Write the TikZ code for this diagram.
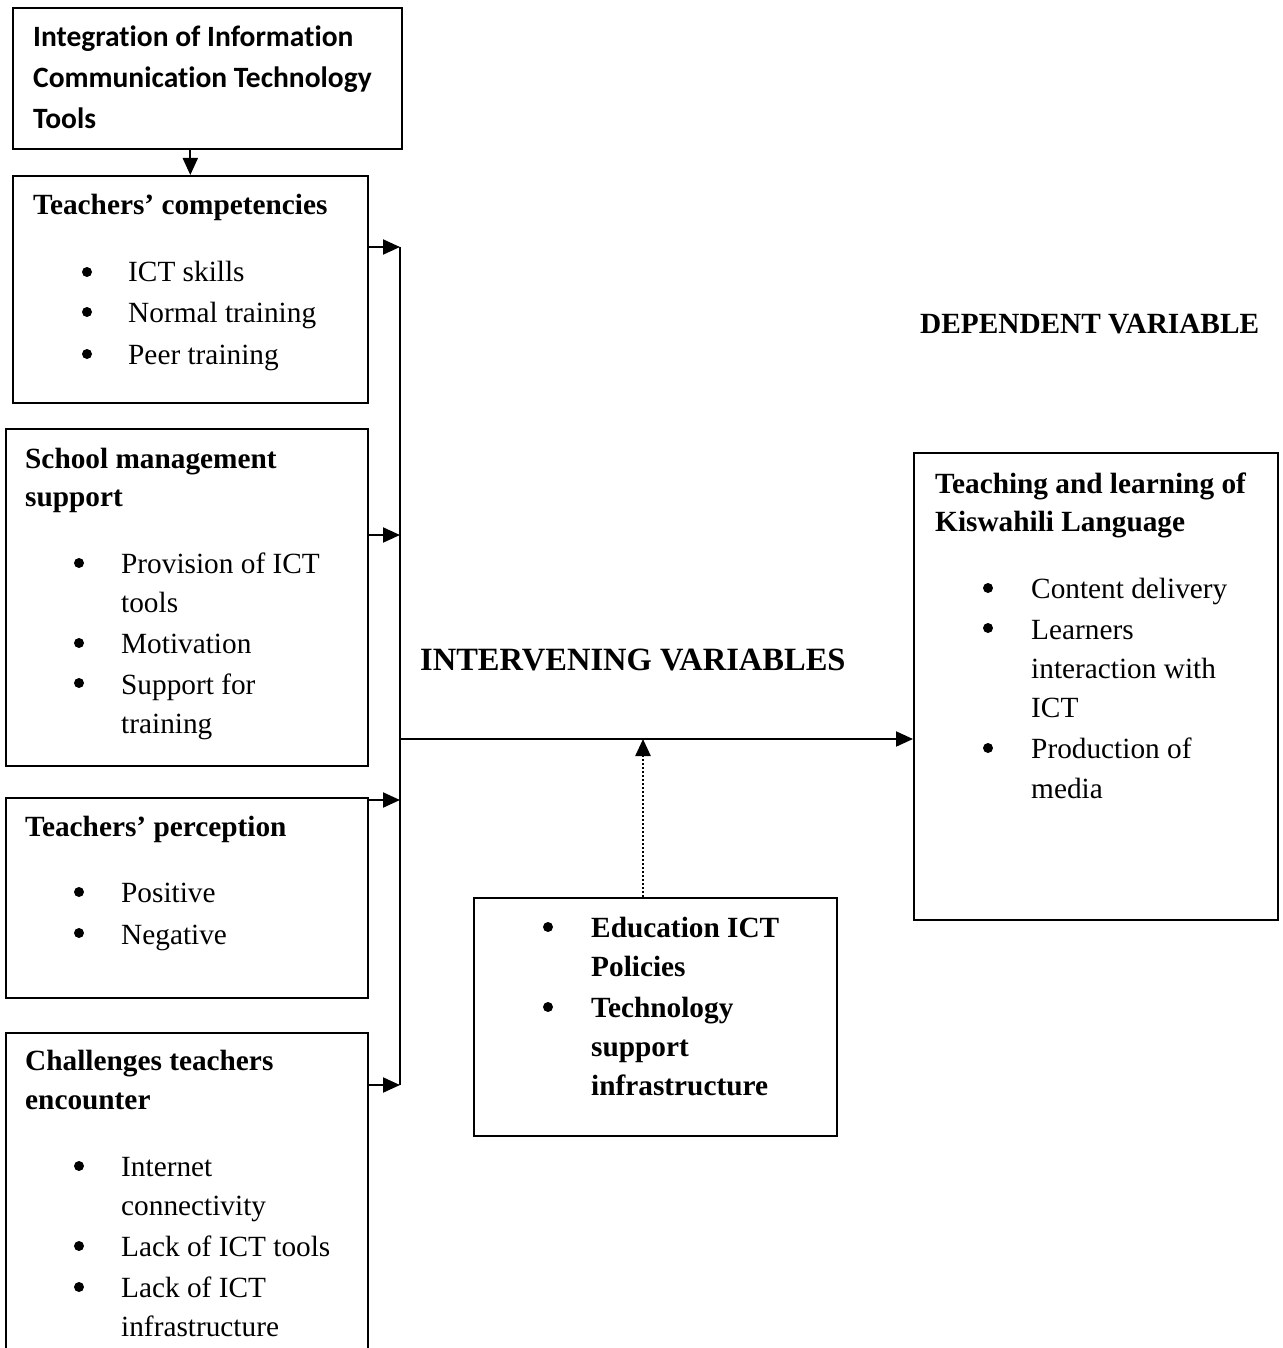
\documentclass[tikz,border=0pt]{standalone}
\usepackage{fontspec}
\setmainfont{Liberation Serif}
\newfontfamily\calfont[Ligatures=NoCommon]{Carlito}
\usetikzlibrary{arrows.meta,calc}
\begin{document}
\begin{tikzpicture}[x=1pt,y=-1pt,
  box/.style={draw,line width=1.6pt,inner sep=0,anchor=north west},
  txt/.style={anchor=base west,inner sep=0,font=\fontsize{29.3}{35}\selectfont},
  btxt/.style={txt,font=\fontsize{29.3}{35}\selectfont\bfseries},
  ctxt/.style={anchor=base west,inner sep=0,font=\fontsize{29.5}{35}\selectfont\calfont\bfseries},
  bul/.style={circle,fill,inner sep=0,minimum size=10pt},
  conn/.style={line width=2pt,-{Triangle[length=17pt,width=15pt]}},
  plain/.style={line width=2pt}]
\useasboundingbox (0,0) rectangle (1282,1348);
\clip (0,0) rectangle (1282,1348);
% boxes
\node[box,minimum width=389pt,minimum height=141pt] (top) at (12,7) {};
\node[box,minimum width=355pt,minimum height=227pt] (tc) at (12,175) {};
\node[box,minimum width=362pt,minimum height=337pt] (sms) at (5,428) {};
\node[box,minimum width=362pt,minimum height=200pt] (tp) at (5,797) {};
\node[box,minimum width=362pt,minimum height=340pt] (ch) at (5,1032) {};
\node[box,minimum width=363pt,minimum height=238pt] (int) at (473,897) {};
\node[box,minimum width=364pt,minimum height=467pt] (dep) at (913,452) {};
% top box text
\node[ctxt] (t1) at (33,47) {Integration of Information};
\node[ctxt] (t2) at (33,88) {Communication Technology};
\node[ctxt] (t3) at (33,129) {Tools};
% teachers' competencies
\node[btxt] (tc0) at (33,215) {Teachers’ competencies};
\node[bul] (tcb1) at (87,272) {};
\node[bul] (tcb2) at (87,312) {};
\node[bul] (tcb3) at (87,354) {};
\node[txt] (tc1) at (128,281) {ICT skills};
\node[txt] (tc2) at (128,322) {Normal training};
\node[txt] (tc3) at (128,364) {Peer training};
% school management support
\node[btxt] (s0) at (25,468) {School management};
\node[btxt] (s00) at (25,506) {support};
\node[bul] (sb1) at (79,563) {};
\node[bul] (sb2) at (79,643) {};
\node[bul] (sb3) at (79,683) {};
\node[txt] (s1) at (121,573) {Provision of ICT};
\node[txt] (s2) at (121,612) {tools};
\node[txt] (s3) at (121,653) {Motivation};
\node[txt] (s4) at (121,694) {Support for};
\node[txt] (s5) at (121,733) {training};
% teachers' perception
\node[btxt] (p0) at (25,836) {Teachers’ perception};
\node[bul] (pb1) at (79,892) {};
\node[bul] (pb2) at (79,933) {};
\node[txt] (p1) at (121,902) {Positive};
\node[txt] (p2) at (121,944) {Negative};
% challenges
\node[btxt] (c0) at (25,1070) {Challenges teachers};
\node[btxt] (c00) at (25,1109) {encounter};
\node[bul] (cb1) at (79,1166) {};
\node[bul] (cb2) at (79,1246) {};
\node[bul] (cb3) at (79,1287) {};
\node[txt] (c1) at (121,1176) {Internet};
\node[txt] (c2) at (121,1215) {connectivity};
\node[txt] (c3) at (121,1256) {Lack of ICT tools};
\node[txt] (c4) at (121,1297) {Lack of ICT};
\node[txt] (c5) at (121,1336) {infrastructure};
% intervening box
\node[bul] (ib1) at (548,927) {};
\node[bul] (ib2) at (548,1007) {};
\node[btxt] (i1) at (591,937) {Education ICT};
\node[btxt] (i2) at (591,976) {Policies};
\node[btxt] (i3) at (591,1017) {Technology};
\node[btxt] (i4) at (591,1056) {support};
\node[btxt] (i5) at (591,1095) {infrastructure};
% dependent box
\node[btxt] (d0) at (935,493) {Teaching and learning of};
\node[btxt] (d00) at (935,531) {Kiswahili Language};
\node[bul] (db1) at (988,588) {};
\node[bul] (db2) at (988,628) {};
\node[bul] (db3) at (988,748) {};
\node[txt] (d1) at (1031,598) {Content delivery};
\node[txt] (d2) at (1031,639) {Learners};
\node[txt] (d3) at (1031,678) {interaction with};
\node[txt] (d4) at (1031,717) {ICT};
\node[txt] (d5) at (1031,758) {Production of};
\node[txt] (d6) at (1031,798) {media};
% headings
\node[btxt] (dv) at (920,333) {DEPENDENT VARIABLE};
\node[anchor=base west,inner sep=0,font=\fontsize{32.5}{38}\selectfont\bfseries] (iv) at (420,670) {INTERVENING VARIABLES};
% connectors
\coordinate (v1) at (400,247);
\coordinate (v2) at (400,535);
\coordinate (v3) at (400,800);
\coordinate (v4) at (400,1085);
\coordinate (vm) at (400,739);
\coordinate (dotfoot) at (643,897);
\draw[conn] (tc.north |- top.south) -- (tc.north);
\draw[conn] (tc.east |- v1) -- (v1);
\draw[conn] (sms.east |- v2) -- (v2);
\draw[conn] (tp.east |- v3) -- (v3);
\draw[conn] (ch.east |- v4) -- (v4);
\draw[plain] (v1) -- (v4);
\draw[conn] (vm) -- (dep.west |- vm);
\draw[conn,dotted,line width=2.5pt] (dotfoot) -- (dotfoot |- vm);
\end{tikzpicture}
\end{document}
